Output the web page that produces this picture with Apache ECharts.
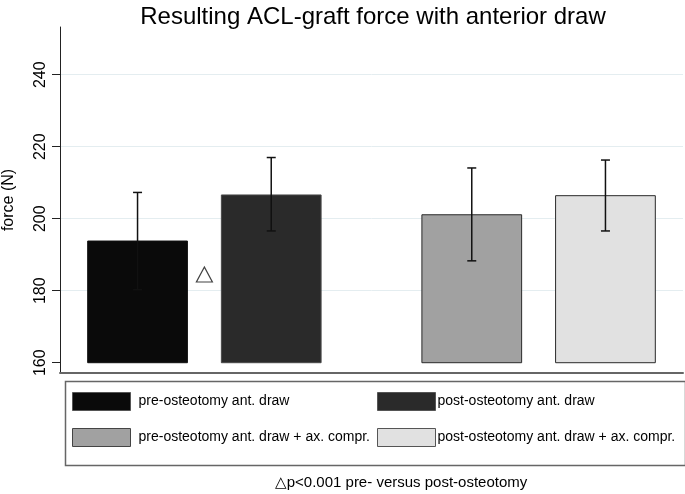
<!DOCTYPE html>
<html>
<head>
<meta charset="utf-8">
<script src="https://cdn.jsdelivr.net/npm/echarts@6/dist/echarts.min.js"></script>
<style>html,body{margin:0;padding:0;background:#fff;}#chart{width:685px;height:494px;}</style>
</head>
<body>
<div id="chart"></div>
<script>
// ---- data ----
const labels = [
  'pre-osteotomy ant. draw',
  'post-osteotomy ant. draw',
  'pre-osteotomy ant. draw + ax. compr.',
  'post-osteotomy ant. draw + ax. compr.'
];
const means   = [193.8, 206.6, 201.1, 206.4];
const errLow  = [180.3, 196.6, 188.3, 196.6];
const errHigh = [207.3, 217.0, 214.1, 216.3];
const tickValues = [160, 180, 200, 220, 240];
const tickLabels = ['160', '180', '200', '220', '240'];
const gridValues = [180, 200, 220, 240];
const sigMarker = [[1.5, 184.5]];
const titleText = 'Resulting ACL-graft force with anterior draw';
const yName = 'force (N)';
const footnote = '\u25B3p<0.001 pre- versus post-osteotomy';

// ---- styling / layout ----
const baseline = 160;
const fills   = ['#0a0a0a', '#2a2a2a', '#a1a1a1', '#e1e1e1'];
const borders = ['#111111', '#4a4a4a', '#2a2a2a', '#2a2a2a'];
const legendBorders = ['#555', '#555', '#444', '#555'];
const barWidthUnits = 0.746;
// bars arranged as 2 groups of (pre, post), with half a slot between groups
const xPos = labels.map((_, i) => i + 1 + Math.floor(i / 2) * 0.5);
const FONT = '"Liberation Sans", Arial, Helvetica, sans-serif';

function makeRender(idx) {
  return function (params, api) {
    const x = api.value(0), m = api.value(1), lo = api.value(2), hi = api.value(3);
    const top = api.coord([x, m]);
    const bot = api.coord([x, baseline]);
    const w = api.size([barWidthUnits, 0])[0];
    const eT = api.coord([x, hi]);
    const eB = api.coord([x, lo]);
    const cap = 4.5;
    const es = { stroke: '#111', lineWidth: 1.5 };
    return {
      type: 'group',
      children: [
        { type: 'rect', shape: { x: top[0] - w / 2, y: top[1], width: w, height: bot[1] - top[1] },
          style: { fill: fills[idx], stroke: borders[idx], lineWidth: 1 } },
        { type: 'line', shape: { x1: eT[0], y1: eT[1], x2: eB[0], y2: eB[1] }, style: es },
        { type: 'line', shape: { x1: eT[0] - cap, y1: eT[1], x2: eT[0] + cap, y2: eT[1] }, style: es },
        { type: 'line', shape: { x1: eB[0] - cap, y1: eB[1], x2: eB[0] + cap, y2: eB[1] }, style: es }
      ]
    };
  };
}

const barSeries = labels.map((name, i) => ({
  type: 'custom',
  name: name,
  z: 2,
  silent: true,
  itemStyle: { color: fills[i], borderColor: legendBorders[i], borderWidth: 1 },
  renderItem: makeRender(i),
  encode: { x: 0, y: [1, 2, 3] },
  data: [[xPos[i], means[i], errLow[i], errHigh[i]]]
}));

function legendData(ids) {
  return ids.map(i => ({
    name: labels[i],
    icon: 'rect',
    itemStyle: { color: fills[i], borderColor: legendBorders[i], borderWidth: 1 }
  }));
}

const chart = echarts.init(document.getElementById('chart'), null, { renderer: 'canvas' });
chart.setOption({
  animation: false,
  backgroundColor: '#fff',
  title: [
    { text: titleText, left: 373, textAlign: 'center', top: 1, padding: 0,
      textStyle: { fontFamily: FONT, fontSize: 24, fontWeight: 'normal', color: '#000', lineHeight: 32 } },
    { text: footnote, left: 401, textAlign: 'center', top: 474, padding: 0,
      textStyle: { fontFamily: FONT, fontSize: 15, fontWeight: 'normal', color: '#000', lineHeight: 18 } }
  ],
  grid: { left: 60, right: 2, top: 27, bottom: 121, containLabel: false, outerBoundsMode: 'none' },
  xAxis: {
    type: 'value', min: 0.42, max: 5.08,
    axisLine: { show: true, onZero: false, lineStyle: { color: '#666', width: 2 } },
    axisTick: { show: false }, axisLabel: { show: false }, splitLine: { show: false }
  },
  yAxis: {
    type: 'value', min: 157.14, max: 253.26,
    name: yName, nameLocation: 'middle', nameGap: 43,
    nameTextStyle: { fontFamily: FONT, fontSize: 16, color: '#000' },
    axisLine: { show: true, onZero: false, lineStyle: { color: '#222', width: 1 } },
    axisTick: { show: true, length: 8, customValues: tickValues, lineStyle: { color: '#222', width: 1 } },
    axisLabel: {
      customValues: tickValues, rotate: 90, margin: 11,
      fontFamily: FONT, fontSize: 16, color: '#000',
      formatter: v => tickLabels[tickValues.indexOf(Math.round(v))] || ''
    },
    splitLine: { show: false }
  },
  legend: [
    { orient: 'vertical', left: 72, top: 392, padding: 0, itemWidth: 58, itemHeight: 18, itemGap: 17,
      selectedMode: false, data: legendData([0, 2]),
      textStyle: { fontFamily: FONT, fontSize: 14, color: '#000', padding: [0, 0, 0, 3] } },
    { orient: 'vertical', left: 377, top: 392, padding: 0, itemWidth: 58, itemHeight: 18, itemGap: 17,
      selectedMode: false, data: legendData([1, 3]),
      textStyle: { fontFamily: FONT, fontSize: 14, color: '#000', padding: [0, 0, 0, -3] } }
  ],
  graphic: [
    { type: 'rect', left: 63, top: 379, shape: { width: 620, height: 84 },
      style: { fill: 'none', stroke: '#666', lineWidth: 1.5 }, silent: true, z: 0 }
  ],
  series: [
    { type: 'line', name: '_grid', data: [], z: 0, silent: true,
      markLine: { silent: true, z: 0, symbol: 'none', label: { show: false },
        lineStyle: { color: '#e4edf0', width: 1, type: 'solid' },
        data: gridValues.map(v => ({ yAxis: v })) } }
  ].concat(barSeries).concat([
    { type: 'scatter', name: '_sig', data: sigMarker, symbol: 'triangle', symbolSize: [16, 15], z: 3, silent: true,
      itemStyle: { color: '#fff', borderColor: '#111', borderWidth: 1.2 } }
  ])
});
</script>
</body>
</html>
